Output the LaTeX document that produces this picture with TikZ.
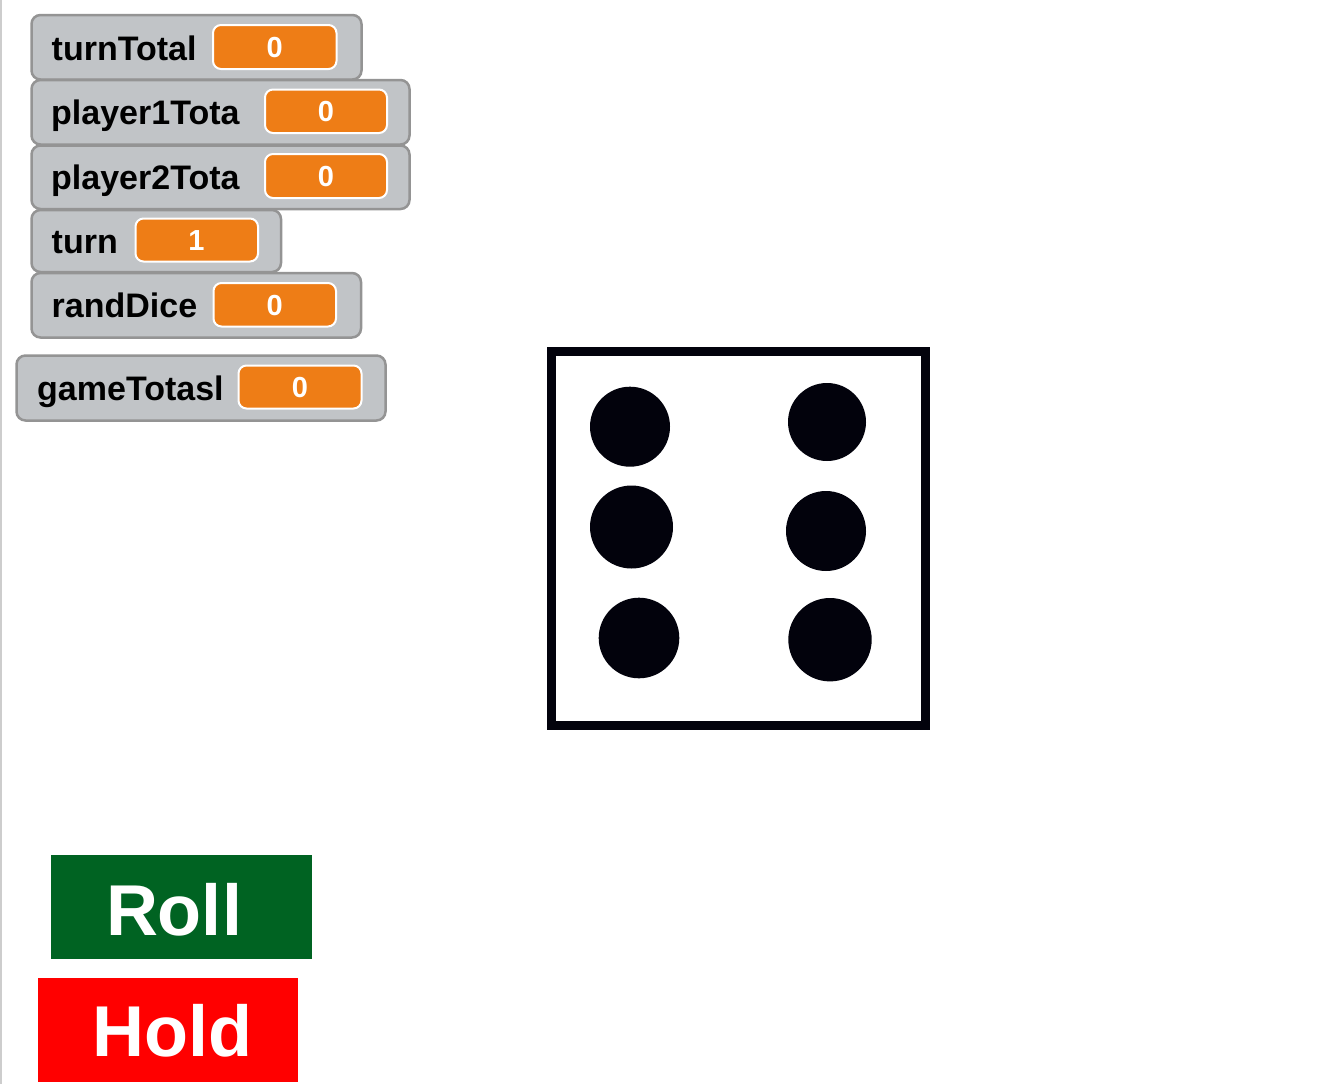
\documentclass[tikz,border=0pt]{standalone}
\usepackage{fontspec}
\setmainfont{Liberation Sans}
\usepackage{tikz}
\usetikzlibrary{positioning}

\definecolor{monfill}{RGB}{193,196,199}
\definecolor{monborder}{RGB}{148,148,148}
\definecolor{valorange}{RGB}{238,125,22}
\definecolor{pipblack}{RGB}{2,2,12}
\definecolor{rollgreen}{RGB}{0,99,34}
\definecolor{holdred}{RGB}{255,0,0}
\definecolor{edgegray}{RGB}{205,205,205}

\newcommand{\varfont}{\fontsize{34}{40}\selectfont\bfseries}
\newcommand{\numfont}{\fontsize{29}{34}\selectfont\bfseries}
\newcommand{\btnfont}{\fontsize{72}{80}\selectfont\bfseries}

\tikzset{
  monitor/.style={draw=monborder, fill=monfill, line width=2.5pt, rounded corners=9pt},
  valuebox/.style={draw=white, fill=valorange, line width=2pt, rounded corners=8pt},
  varlabel/.style={anchor=base west, inner sep=0pt, font=\varfont},
  varvalue/.style={anchor=base, inner sep=0pt, text=white, font=\numfont},
  pip/.style={fill=pipblack},
  btnlabel/.style={anchor=base, inner sep=0pt, text=white, font=\btnfont}
}

\begin{document}
\begin{tikzpicture}[x=1pt,y=-1pt]
  % Stage
  \fill[white] (0,0) rectangle (1335,1084);
  \useasboundingbox (0,0) rectangle (1335,1084);
  \draw[edgegray, line width=2pt] (1,0) -- (1,1084);

  % Variable monitors
  \draw[monitor] (31.5,15) rectangle (361.5,79.5);
  \draw[valuebox] (213,25) rectangle (336.5,69);
  \node[varlabel] (turnTotal) at (51.5,60) {turnTotal};
  \node[varvalue] (turnTotalVal) at (274.7,57) {0};

  \draw[monitor] (31.5,80) rectangle (409.5,144.5);
  \draw[valuebox] (265,89.5) rectangle (387,133);
  \node[varlabel] (player1) at (51,124) {player1Tota};
  \node[varvalue] (player1Val) at (326,121.5) {0};

  \draw[monitor] (31.5,145.5) rectangle (409.5,209);
  \draw[valuebox] (265,154) rectangle (387,198);
  \node[varlabel] (player2) at (51,189) {player2Tota};
  \node[varvalue] (player2Val) at (326,186.5) {0};

  \draw[monitor] (31.5,210) rectangle (281,272);
  \draw[valuebox] (135.5,218.5) rectangle (258,261.5);
  \node[varlabel] (turn) at (51.5,253) {turn};
  \node[varvalue] (turnVal) at (196.5,250.5) {1};

  \draw[monitor] (31.5,273) rectangle (361,337.5);
  \draw[valuebox] (213.5,283) rectangle (336,326.5);
  \node[varlabel] (randDice) at (51.5,317) {randDice};
  \node[varvalue] (randDiceVal) at (274.7,315) {0};

  \draw[monitor] (16.5,355.5) rectangle (385.5,420.5);
  \draw[valuebox] (238.5,365.5) rectangle (361.5,408.5);
  \node[varlabel] (gameTotal) at (37,400) {gameTotasl};
  \node[varvalue] (gameTotalVal) at (300,397) {0};

  % Die showing six
  \draw[pipblack, line width=9pt] (551.8,351.3) rectangle (925.5,725.5);
  \fill[pip] (630,426.7) circle (40);
  \fill[pip] (827,422) circle (39);
  \fill[pip] (631.5,527) circle (41.5);
  \fill[pip] (826,531) circle (40);
  \fill[pip] (639,638) circle (40.3);
  \fill[pip] (830,639.7) circle (41.7);

  % Buttons
  \fill[rollgreen] (51,855) rectangle (311.7,959);
  \node[btnlabel] (roll) at (174,935) {Roll};
  \fill[holdred] (38.3,977.7) rectangle (298.3,1082.3);
  \node[btnlabel] (hold) at (172.5,1056.7) {Hold};
\end{tikzpicture}
\end{document}
